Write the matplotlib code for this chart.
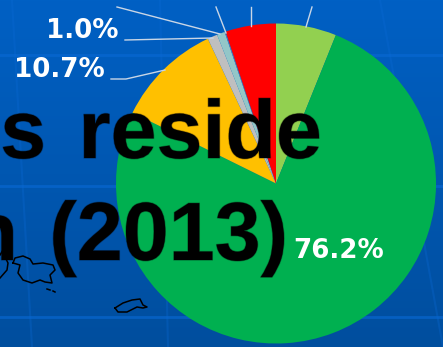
import numpy as np
import matplotlib
matplotlib.use("Agg")
import matplotlib.pyplot as plt
import matplotlib.patheffects as pe

W, H = 443, 347

# Pie shares in percent, clockwise from twelve o'clock
shares = [6.1, 76.2, 10.7, 1.0, 0.8, 0.1, 5.1]
slice_colors = ["#92D050", "#00B050", "#FFC000", "#BFBFBF", "#93C6C8", "#4F81BD", "#FF0000"]

# Title fragments with the x of their right edge and their baseline
title_words = [("ts", 46, 158), ("reside", 322, 158), ("n", 18, 260), ("(2013)", 288, 260)]

# Leader lines in pixel coordinates
leaders = [
    [(111, 79), (126, 79), (165, 70)],
    [(125, 40), (213, 38)],
    [(117, 7), (220, 34)],
    [(216, 7), (226, 33)],
    [(251, 7), (251, 26)],
    [(312, 7), (306, 27)],
]

# Coastline outlines on the backdrop map
coasts = [
    [(13, 263), (15, 258), (23, 256), (30, 259), (33, 264), (43, 263), (53, 265), (55, 270),
     (50, 275), (52, 283), (45, 282), (40, 280), (32, 283), (23, 280), (18, 273), (20, 265), (13, 263)],
    [(0, 278), (7, 270), (8, 263), (5, 257), (3, 250), (0, 255)],
    [(115, 308), (123, 303), (132, 300), (140, 299), (143, 305), (147, 307), (143, 308),
     (137, 307), (127, 312), (118, 312), (115, 308)],
    [(47, 289), (50, 290)],
    [(53, 291), (55, 292)],
]
grid_rows = [55, 186, 317]
grid_cols = [((12, 0), (32, 347)), ((160, 0), (168, 347)), ((380, 0), (443, 347))]

fig = plt.figure(figsize=(W / 100, H / 100), dpi=100)

bg = fig.add_axes([0, 0, 1, 1])
bg.set_xlim(0, W)
bg.set_ylim(H, 0)
bg.axis("off")

top = np.array([0x00, 0x60, 0xC4]) / 255
bottom = np.array([0x00, 0x4E, 0x9E]) / 255
ramp = np.linspace(0, 1, H)[:, None, None]
bg.imshow(top + (bottom - top) * ramp, extent=(0, W, H, 0), aspect="auto", zorder=0)

for y in grid_rows:
    bg.axhline(y, color="#0A6AD6", lw=2.0, alpha=0.6, zorder=1)
for (a, b) in grid_cols:
    bg.plot([a[0], b[0]], [a[1], b[1]], color="#0A6AD6", lw=1.5, alpha=0.3, zorder=1)
for c in coasts:
    xs, ys = zip(*c)
    bg.plot(xs, ys, color="black", lw=1.1, zorder=2)

# Pie sits in its own square axes so the slices stay circular
cx, cy, r = 276, 183.5, 160
pie_ax = fig.add_axes([(cx - r) / W, (H - cy - r) / H, 2 * r / W, 2 * r / H])
pie_ax.pie(shares, colors=slice_colors, startangle=90, counterclock=False,
           radius=1, wedgeprops=dict(linewidth=0))
pie_ax.set_xlim(-1, 1)
pie_ax.set_ylim(-1, 1)
pie_ax.axis("off")

# Overlay for everything drawn above the pie
fg = fig.add_axes([0, 0, 1, 1])
fg.set_xlim(0, W)
fg.set_ylim(H, 0)
fg.axis("off")
fg.patch.set_alpha(0)

for line in leaders:
    xs, ys = zip(*line)
    fg.plot(xs, ys, color="#C9D6E6", lw=1.0, zorder=3)

soft = [pe.withStroke(linewidth=1.0, foreground="black", alpha=0.3)]
for word, x, y in title_words:
    fg.text(x, y, word, color="black", fontsize=59.5, fontweight="bold",
            family="Liberation Sans", ha="right", va="baseline", zorder=4, path_effects=soft)

label_kw = dict(color="white", fontsize=18.8, fontweight="bold", family="DejaVu Sans",
                ha="right", va="center", zorder=5)
fg.text(105, 70, f"{shares[2]:.1f}%", **label_kw)
fg.text(119, 31, f"{shares[3]:.1f}%", **label_kw)
fg.text(384, 251, f"{shares[1]:.1f}%", **label_kw)

fig.savefig("out.png", dpi=100)
